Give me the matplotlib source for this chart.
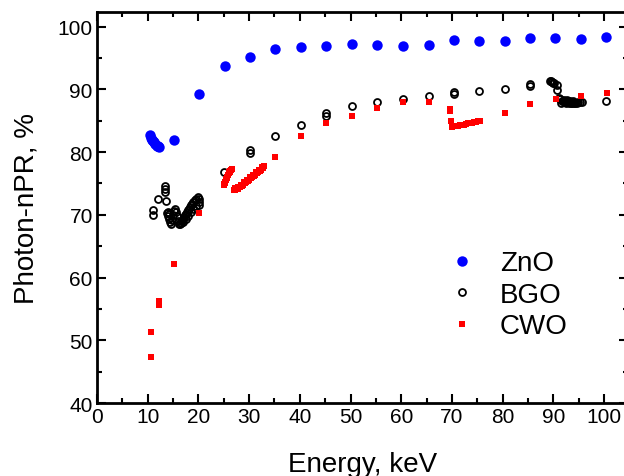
import matplotlib
matplotlib.use("Agg")
import matplotlib.pyplot as plt
from matplotlib.ticker import MultipleLocator

plt.rcParams['font.family'] = ['Liberation Sans', 'DejaVu Sans']

# ZnO
zno_x = [10.5, 10.6, 10.8, 11.0, 11.2, 11.5, 11.8, 12.0, 12.2,
         15.2, 20.2, 25.2, 30.2, 35.2, 40.2, 45.2, 50.3, 55.2, 60.4,
         65.4, 70.4, 75.3, 80.5, 85.4, 90.3, 95.5, 100.4]
zno_y = [82.7, 82.3, 82.0, 81.8, 81.6, 81.3, 81.0, 80.9, 80.8,
         82.0, 89.3, 93.7, 95.2, 96.4, 96.7, 96.9, 97.2, 97.1, 96.9,
         97.1, 97.9, 97.7, 97.7, 98.2, 98.2, 98.1, 98.4]

# BGO
bgo_x = [11.1, 11.1, 12.1, 13.6, 13.4, 13.4, 13.4,
         13.8, 14.0, 14.2, 14.4, 14.6, 14.8, 15.0, 15.2, 15.4, 15.6, 15.8,
         16.0, 16.2, 16.4, 16.6, 16.8, 17.0, 17.2, 17.4, 17.6, 17.8, 18.0,
         18.2, 18.4, 18.6, 18.8, 19.0, 19.3, 19.6, 19.9, 20.2, 20.2, 20.1,
         17.0, 17.5, 18.0, 18.5, 19.0, 19.5, 14.0, 14.3,
         25.1, 30.2, 30.2, 35.2, 40.2, 45.2, 45.2, 50.3, 55.2, 60.4, 65.4,
         70.4, 70.4, 75.4, 80.5, 85.4, 85.4,
         89.4, 89.6, 89.8, 90.0, 90.2, 90.8, 90.8,
         91.0, 91.3, 91.6, 91.9, 92.2, 92.5, 92.8, 93.1, 93.4, 93.7, 94.0,
         94.3, 94.6, 94.9, 95.3, 95.6, 91.5, 92.0, 92.6, 93.2, 93.8,
         100.4]
bgo_y = [70.7, 70.0, 72.5, 72.2, 74.6, 74.1, 73.6,
         70.3, 69.8, 69.3, 68.9, 68.6, 69.2, 70.0, 70.6, 71.0, 70.5, 69.8,
         69.1, 68.6, 68.5, 68.7, 69.0, 69.3, 69.6, 69.9, 70.2, 70.5, 70.8,
         71.0, 71.3, 71.5, 71.8, 72.0, 72.3, 72.6, 72.8, 72.5, 72.0, 71.6,
         68.8, 69.3, 69.8, 70.4, 70.9, 71.4, 70.5, 70.1,
         76.9, 80.3, 79.9, 82.6, 84.4, 86.2, 85.7, 87.4, 88.0, 88.5, 89.0,
         89.6, 89.2, 89.7, 90.1, 90.9, 90.6,
         91.3, 91.3, 91.2, 91.1, 91.0, 90.7, 89.9,
         88.6, 88.4, 88.2, 88.1, 88.0, 87.9, 88.0, 87.9, 87.8, 87.9, 87.8,
         87.9, 87.8, 88.0, 88.0, 88.0, 87.9, 88.3, 88.3, 88.2, 88.2,
         88.2]

# CWO
cwo_x = [10.7, 10.7, 12.2, 12.2, 15.2, 20.2,
         25.0, 25.1, 25.2, 25.3, 25.4, 25.5, 25.6, 25.7, 25.8, 25.9, 26.0,
         26.1, 26.2, 26.3, 26.4, 26.5, 26.6,
         27.0, 27.3, 27.6, 27.9, 28.2, 28.5, 28.8, 29.1, 29.4, 29.7, 30.0,
         30.3, 30.6, 30.9, 31.2, 31.5, 31.8, 32.1, 32.4, 32.7, 33.0,
         27.2, 27.8, 28.4, 29.0, 29.6, 30.2, 30.8, 31.4, 32.0, 32.6,
         35.2, 40.2, 45.2, 50.3, 55.2, 60.4, 65.5,
         69.6, 69.6, 69.9,
         70.0, 70.4, 70.8, 71.2, 71.6, 72.0, 72.4, 72.8, 73.2, 73.6, 74.0,
         74.4, 74.8, 75.2, 75.5,
         80.5, 85.4, 90.5, 95.5, 100.5]
cwo_y = [51.3, 47.3, 56.3, 55.7, 62.1, 70.3,
         74.7, 74.9, 75.1, 75.3, 75.5, 75.7, 75.9, 76.1, 76.3, 76.4, 76.6,
         76.8, 76.9, 77.0, 77.1, 77.2, 77.3,
         74.0, 74.0, 74.1, 74.2, 74.4, 74.6, 74.8, 75.0, 75.2, 75.4, 75.6,
         75.8, 76.0, 76.2, 76.4, 76.6, 76.8, 77.0, 77.2, 77.5, 77.8,
         74.3, 74.5, 74.8, 75.2, 75.6, 76.0, 76.4, 76.8, 77.2, 77.6,
         79.3, 82.5, 84.6, 85.8, 87.0, 88.0, 88.0,
         86.9, 86.5, 85.0,
         84.0, 84.1, 84.2, 84.2, 84.3, 84.4, 84.4, 84.5, 84.6, 84.6, 84.7,
         84.8, 84.8, 84.9, 85.0,
         86.3, 87.6, 88.4, 88.9, 89.4]

fig = plt.figure(figsize=(6.24, 4.77), dpi=100)
ax = fig.add_axes([0.1554, 0.153, 0.851, 0.8205])

ax.plot(zno_x, zno_y, 'o', color='#0000ff', markersize=7.5, markeredgewidth=0, label='ZnO')
ax.plot(bgo_x, bgo_y, 'o', markerfacecolor='none', markeredgecolor='black',
        markersize=5, markeredgewidth=1.3, label='BGO')
ax.plot(cwo_x, cwo_y, 's', color='#ff0000', markersize=4.5, markeredgewidth=0, label='CWO')

ax.set_xlim(0, 104.7)
ax.set_ylim(40, 102.4)
ax.xaxis.set_major_locator(MultipleLocator(10))
ax.xaxis.set_minor_locator(MultipleLocator(5))
ax.yaxis.set_major_locator(MultipleLocator(10))
ax.yaxis.set_minor_locator(MultipleLocator(5))
ax.tick_params(which='both', direction='in', top=True, right=True, width=1.5)
ax.tick_params(which='major', length=6.5, labelsize=15, pad=3)
ax.tick_params(which='minor', length=3.6)
for s in ax.spines.values():
    s.set_linewidth(2)

ax.set_xlabel('Energy, keV', fontsize=20, labelpad=18)
ax.set_ylabel('Photon-nPR, %', fontsize=20, labelpad=13)

ax.legend(loc='upper left', bbox_to_anchor=(0.661, 0.39), frameon=False,
          fontsize=20, borderpad=0, borderaxespad=0, handlelength=1,
          handletextpad=0.87, labelspacing=0.2)

fig.savefig('out.png', dpi=100)
